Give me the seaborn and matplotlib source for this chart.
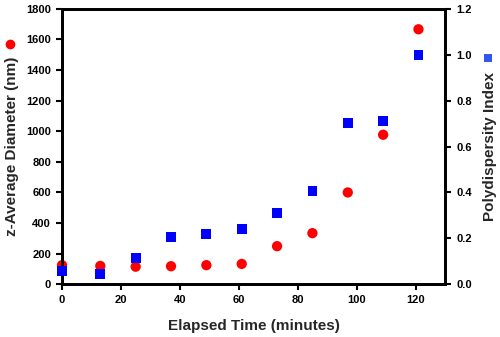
import matplotlib
matplotlib.use("Agg")
import matplotlib.pyplot as plt
import seaborn as sns
import pandas as pd
from matplotlib.lines import Line2D

time_min = [0, 13, 25, 37, 49, 61, 73, 85, 97, 109, 121]
diameter_nm = [125, 120, 115, 118, 125, 133, 249, 334, 600, 977, 1666]
pdi = [0.059, 0.046, 0.113, 0.207, 0.220, 0.242, 0.312, 0.407, 0.701, 0.712, 1.0]

x_ticks = [0, 20, 40, 60, 80, 100, 120]
left_ticks = [0, 200, 400, 600, 800, 1000, 1200, 1400, 1600, 1800]
right_ticks = [0.0, 0.2, 0.4, 0.6, 0.8, 1.0, 1.2]

df = pd.DataFrame({"t": time_min, "d": diameter_nm, "p": pdi})

sns.set_style("ticks")
plt.rcParams['font.family'] = ['Liberation Sans', 'DejaVu Sans']
plt.rcParams['font.weight'] = 'bold'

fig = plt.figure(figsize=(5, 3.37), dpi=100)
ax = fig.add_axes([0.124, 0.1564, 0.766, 0.8176])
ax2 = ax.twinx()

sns.scatterplot(data=df, x="t", y="d", ax=ax, color="#ff0000", marker="o",
                s=55, edgecolor="none", zorder=3, clip_on=False)
sns.scatterplot(data=df, x="t", y="p", ax=ax2, color="#0000ff", marker="s",
                s=50, edgecolor="none", zorder=3, clip_on=False)

ax.set_xlim(0, 130)
ax.set_ylim(0, 1800)
ax2.set_ylim(0, 1.2)
ax.set_xticks(x_ticks)
ax.set_yticks(left_ticks)
ax2.set_yticks(right_ticks)
ax2.set_yticklabels([f"{v:.1f}" for v in right_ticks])

for a in (ax, ax2):
    for s in a.spines.values():
        s.set_linewidth(2)
        s.set_color("black")
    a.tick_params(width=1.5, length=4, labelsize=8, colors="black", pad=4)
    for lab in a.get_xticklabels() + a.get_yticklabels():
        lab.set_fontweight("bold")

ax.set_xlabel("Elapsed Time (minutes)", fontsize=11, fontweight="bold", labelpad=10)
ax.set_ylabel("z-Average Diameter (nm)", fontsize=11, fontweight="bold", labelpad=5)
ax2.set_ylabel("Polydispersity Index", fontsize=11, fontweight="bold", labelpad=8)

fig.add_artist(Line2D([10 / 500], [1 - 44 / 337], marker="o", color="#ff0000",
                      markersize=7, markeredgewidth=0, transform=fig.transFigure))
fig.add_artist(Line2D([488 / 500], [1 - 58 / 337], marker="s", color="#3355ee",
                      markersize=6, markeredgewidth=0, transform=fig.transFigure))

fig.savefig("out.png", dpi=100)
